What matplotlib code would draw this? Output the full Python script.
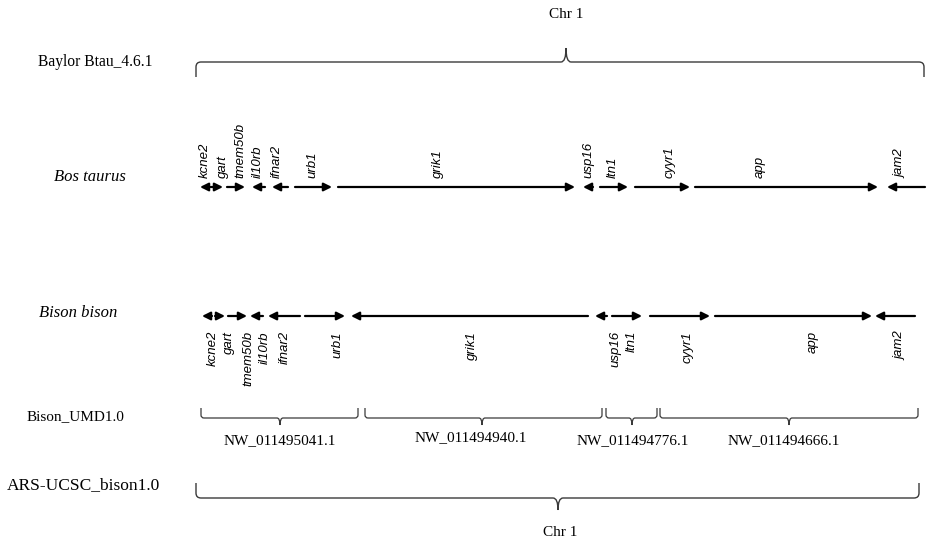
import matplotlib
matplotlib.use("Agg")
import matplotlib.pyplot as plt
from matplotlib.path import Path
from matplotlib.patches import PathPatch

# ---------------- data ----------------
genes = ["kcne2", "gart", "tmem50b", "il10rb", "ifnar2", "urb1", "grik1",
         "usp16", "ltn1", "cyyr1", "app", "jam2"]

# Bos taurus (Baylor Btau_4.6.1) gene spans and strands
bt_start = [200, 211, 227, 252, 272, 295, 338, 583, 600, 635, 695, 887]
bt_end   = [210, 223, 245, 265, 288, 332, 575, 593, 628, 690, 878, 925]
bt_strand = ["-", "+", "+", "-", "-", "+", "+", "-", "+", "+", "+", "-"]
bt_label_x = [205, 223, 240, 258, 277, 312, 438, 588, 613, 670, 760, 900]

# Bison bison (Bison_UMD1.0) gene spans and strands
bb_start = [202, 215, 228, 250, 268, 305, 351, 595, 612, 650, 715, 875]
bb_end   = [212, 225, 247, 263, 300, 345, 588, 607, 642, 710, 872, 915]
bb_strand = ["-", "+", "+", "-", "-", "+", "-", "-", "+", "+", "+", "-"]
bb_label_x = [213, 229, 248, 265, 285, 337, 472, 615, 632, 688, 813, 900]

# Bison_UMD1.0 scaffolds
scaffolds = ["NW_011495041.1", "NW_011494940.1", "NW_011494776.1", "NW_011494666.1"]
scaf_start = [201, 365, 606, 660]
scaf_end   = [358, 602, 657, 918]
scaf_mid   = [280, 482, 632, 789]
scaf_label_x = [280, 471, 633, 784]
scaf_label_y = [441, 438, 441, 441]

# ---------------- figure ----------------
W, H = 935, 544
fig = plt.figure(figsize=(W / 100, H / 100), dpi=100)
ax = fig.add_axes([0, 0, 1, 1])
ax.set_xlim(0, W)
ax.set_ylim(H, 0)
ax.axis("off")

serif = ["Liberation Serif", "DejaVu Serif"]
sans = ["Liberation Sans", "DejaVu Sans"]
bcol = "#3a3a3a"


def brace(x0, x1, xc, yh, yend, ytip, r, lw=1.0):
    d = 1 if yend > yh else -1
    verts = [(x0, yend), (x0, yh + d * r), (x0, yh), (x0 + r, yh),
             (xc - r, yh), (xc, yh), (xc, ytip),
             (xc, yh), (xc + r, yh),
             (x1 - r, yh), (x1, yh), (x1, yh + d * r), (x1, yend)]
    codes = [Path.MOVETO, Path.LINETO, Path.CURVE3, Path.CURVE3,
             Path.LINETO, Path.CURVE3, Path.CURVE3,
             Path.CURVE3, Path.CURVE3,
             Path.LINETO, Path.CURVE3, Path.CURVE3, Path.LINETO]
    ax.add_patch(PathPatch(Path(verts, codes), fill=False, lw=lw,
                           edgecolor=bcol, capstyle="butt"))


def gene_arrow(s, e, strand, y):
    if strand == "+":
        tail, head = s, e
    else:
        tail, head = e, s
    ax.annotate("", xy=(head, y), xytext=(tail, y),
                arrowprops=dict(arrowstyle="-|>", lw=1.6, color="black",
                                mutation_scale=12, shrinkA=0, shrinkB=0))


# top: Chr 1 of Baylor Btau_4.6.1
ax.text(566, 14, "Chr 1", family=serif, fontsize=11, ha="center", va="center")
ax.text(38, 62, "Baylor Btau_4.6.1", family=serif, fontsize=11.2, ha="left", va="center")
brace(196, 924, 566, 62, 77, 48, 5)

# Bos taurus
ax.text(90, 177, "Bos taurus", family=serif, style="italic", fontsize=12,
        ha="center", va="center")
for g, s, e, st, lx in zip(genes, bt_start, bt_end, bt_strand, bt_label_x):
    gene_arrow(s, e, st, 187)
    ax.text(lx, 178, g, family=sans, style="italic", fontsize=9.5,
            rotation=90, ha="center", va="bottom")

# Bison bison
ax.text(78, 313, "Bison bison", family=serif, style="italic", fontsize=12,
        ha="center", va="center")
for g, s, e, st, lx in zip(genes, bb_start, bb_end, bb_strand, bb_label_x):
    gene_arrow(s, e, st, 316)
    ax.text(lx, 331, g, family=sans, style="italic", fontsize=9.5,
            rotation=90, ha="center", va="top")

# Bison_UMD1.0 scaffolds
ax.text(27, 417, "Bison_UMD1.0", family=serif, fontsize=11, ha="left", va="center")
for name, s, e, m, lx, ly in zip(scaffolds, scaf_start, scaf_end, scaf_mid,
                                 scaf_label_x, scaf_label_y):
    brace(s, e, m, 418, 408, 425, 3, lw=0.9)
    ax.text(lx, ly, name, family=serif, fontsize=11, ha="center", va="center")

# bottom: Chr 1 of ARS-UCSC_bison1.0
ax.text(7, 485, "ARS-UCSC_bison1.0", family=serif, fontsize=12.5, ha="left", va="center")
brace(196, 919, 558, 498, 483, 510, 5)
ax.text(560, 532, "Chr 1", family=serif, fontsize=11, ha="center", va="center")

fig.savefig("out.png", dpi=100, facecolor="white")
